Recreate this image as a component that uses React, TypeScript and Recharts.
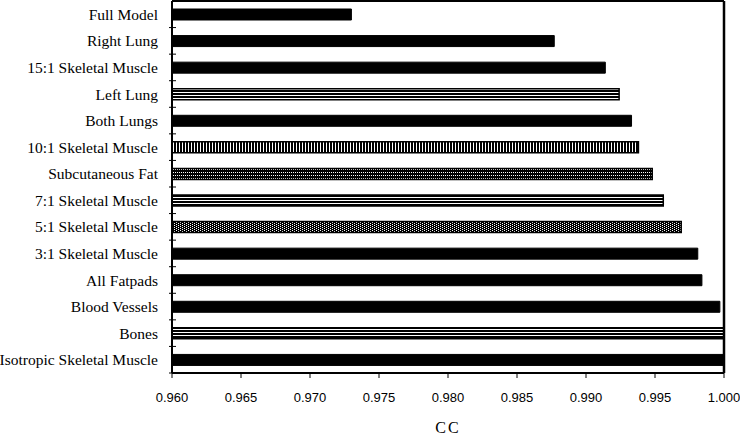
import React from 'react';
import { BarChart, Bar, XAxis, YAxis, Cell } from 'recharts';

// Categories, top to bottom
const structures = [
  'Full Model',
  'Right Lung',
  '15:1 Skeletal Muscle',
  'Left Lung',
  'Both Lungs',
  '10:1 Skeletal Muscle',
  'Subcutaneous Fat',
  '7:1 Skeletal Muscle',
  '5:1 Skeletal Muscle',
  '3:1 Skeletal Muscle',
  'All Fatpads',
  'Blood Vessels',
  'Bones',
  'Isotropic Skeletal Muscle',
];

// correlation coefficient per structure
const ccValues = [
  0.973, 0.9877, 0.9914, 0.9924, 0.9933, 0.9938, 0.9948,
  0.9956, 0.9969, 0.9981, 0.9984, 0.9997, 1.0, 1.0,
];

// fill style per bar
const barFills = [
  'solid', 'solid', 'solid', 'hlines', 'solid', 'vlines', 'dots',
  'hlines', 'checker', 'solid', 'solid', 'solid', 'hlines', 'solid',
];

const xTicks = [0.96, 0.965, 0.97, 0.975, 0.98, 0.985, 0.99, 0.995, 1.0];

const data = structures.map((name, i) => ({ name, cc: ccValues[i], fillType: barFills[i] }));

const fillFor = (t: string) => (t === 'solid' ? '#000' : `url(#${t})`);

// label + tick at band boundary
const StructureTick = ({ x, y, payload }: any) => {
  const half = payload?.offset ?? 13.3;
  return (
    <g>
      <line x1={x - 3} x2={x + 4} y1={y + half} y2={y + half} stroke="#000" strokeWidth={1} />
      <text
        x={x - 14}
        y={y}
        dy="0.36em"
        textAnchor="end"
        fontFamily="'Liberation Serif', serif"
        fontSize={15.5}
        fill="#000"
      >
        {payload.value}
      </text>
    </g>
  );
};

const CcLabel = ({ viewBox }: any) => {
  const { x, y, width } = viewBox;
  return (
    <text
      x={x + width / 2}
      y={y + 60}
      textAnchor="middle"
      fontFamily="'Liberation Serif', serif"
      fontSize={16}
      letterSpacing={2}
      fill="#000"
    >
      CC
    </text>
  );
};

export default function App() {
  return (
    <div style={{ position: 'absolute', left: 0, top: 0, width: 740, height: 435, background: '#fff' }}>
      <BarChart
        width={740}
        height={435}
        data={data}
        layout="vertical"
        margin={{ top: 0, right: 15, bottom: 22, left: 0 }}
        barCategoryGap={0}
      >
        <defs>
          <pattern id="hlines" width={4} height={3} patternUnits="userSpaceOnUse">
            <rect width={4} height={3} fill="#000" />
            <rect y={2} width={4} height={1} fill="#fff" />
          </pattern>
          <pattern id="vlines" width={3} height={4} patternUnits="userSpaceOnUse">
            <rect width={3} height={4} fill="#000" />
            <rect x={2} width={1} height={4} fill="#fff" />
          </pattern>
          <pattern id="dots" width={2} height={3} patternUnits="userSpaceOnUse">
            <rect width={2} height={3} fill="#000" />
            <rect x={1} y={1} width={1} height={1} fill="#fff" />
          </pattern>
          <pattern id="checker" width={4} height={2} patternUnits="userSpaceOnUse">
            <rect width={4} height={2} fill="#000" />
            <rect x={0} y={0} width={1} height={1} fill="#fff" />
            <rect x={2} y={1} width={1} height={1} fill="#fff" />
          </pattern>
        </defs>
        <XAxis
          type="number"
          dataKey="cc"
          domain={[0.96, 1.0]}
          ticks={xTicks}
          allowDataOverflow
          tickFormatter={(v: number) => v.toFixed(3)}
          height={40}
          tickSize={5}
          tickMargin={15}
          axisLine={{ stroke: '#000', strokeWidth: 2 }}
          tickLine={{ stroke: '#000' }}
          tick={{ fill: '#000', fontSize: 13, fontFamily: "'Liberation Sans', sans-serif" }}
          label={<CcLabel />}
        />
        <XAxis
          xAxisId="frameTop"
          orientation="top"
          type="number"
          domain={[0, 1]}
          height={1}
          tick={false}
          tickLine={false}
          axisLine={{ stroke: '#000', strokeWidth: 2 }}
        />
        <YAxis
          type="category"
          dataKey="name"
          width={172}
          tickSize={0}
          tickMargin={0}
          interval={0}
          tickLine={false}
          axisLine={{ stroke: '#000', strokeWidth: 2 }}
          tick={<StructureTick />}
        />
        <YAxis
          yAxisId="frameRight"
          orientation="right"
          type="number"
          domain={[0, 1]}
          width={1}
          tick={false}
          tickLine={false}
          axisLine={{ stroke: '#000', strokeWidth: 2.5 }}
        />
        <Bar dataKey="cc" barSize={11} isAnimationActive={false}>
          {data.map((entry, index) => (
            <Cell
              key={`cell-${index}`}
              fill={fillFor(entry.fillType)}
              stroke="#000"
              strokeWidth={entry.fillType === 'solid' ? 1 : 1.5}
            />
          ))}
        </Bar>
      </BarChart>
    </div>
  );
}
